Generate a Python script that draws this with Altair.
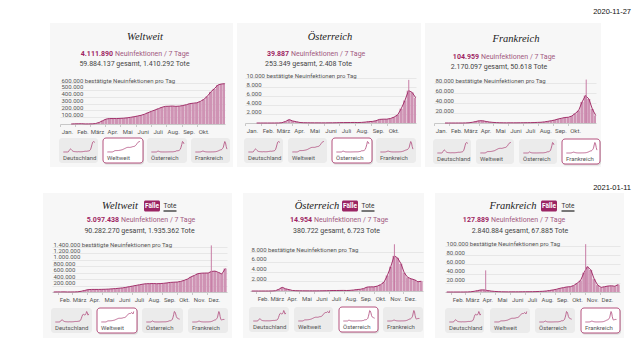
import altair as alt
import pandas as pd

# ---------------- data ----------------
week_start = pd.date_range("2020-01-20", periods=52, freq="7D")

weltweit = [500, 2500, 3200, 4000, 1200, 1500,
            2500, 7000, 22000, 48000, 72000,
            80000, 80000, 80000, 82000,
            85000, 90000, 98000, 106000,
            117000, 127000, 143000, 165000, 185000,
            205000, 225000, 245000, 258000,
            260000, 263000, 258000, 262000, 270000,
            282000, 298000, 305000, 310000,
            330000, 360000, 405000, 470000,
            515000, 570000, 585000, 590000, 590000,
            640000, 650000, 610000, 560000,
            730000, 720000]

oesterreich = [0, 0, 0, 0, 0, 2,
               10, 60, 350, 750, 450,
               280, 110, 65, 50,
               40, 35, 35, 30,
               30, 40, 45, 60, 80,
               100, 100, 110, 120,
               100, 130, 200, 300, 350,
               500, 800, 850, 850,
               1000, 1300, 1800, 3200,
               5000, 7200, 6800, 5600, 3700,
               2800, 2500, 2300, 1900,
               2000, 2100]

frankreich = [0, 1, 1, 1, 2, 5,
              150, 500, 1500, 3000, 4500,
              4500, 3000, 2000, 1200,
              800, 500, 400, 300,
              400, 400, 400, 500, 550,
              600, 700, 900, 1200,
              1500, 2200, 3300, 4500, 6000,
              8000, 9500, 11000, 11500,
              14000, 19000, 25000, 42000,
              55000, 48000, 28000, 15000, 10000,
              11500, 13000, 13500, 12500,
              16000, 18000]

deutschland = [0, 1, 1, 1, 1, 5,
               50, 400, 2500, 4500, 5500,
               4500, 3000, 1800, 1100,
               800, 650, 550, 450,
               350, 350, 600, 500, 450,
               400, 450, 550, 650,
               900, 1100, 1300, 1400, 1300,
               1400, 1700, 1900, 2200,
               3000, 5000, 9000, 14000,
               18000, 19000, 18000, 17500, 18000,
               21000, 26000, 23000, 17000,
               20000, 19000]

# single-day peaks (date, value)
spike_dates = {
    "r1c2": ["2020-11-13"], "r1c3": ["2020-11-07"],
    "r2c1": ["2020-12-10"], "r2c2": ["2020-11-13"], "r2c3": ["2020-04-12", "2020-11-02"],
}
spike_values = {
    "r1c2": [9586], "r1c3": [86852],
    "r2c1": [1450000], "r2c2": [9586], "r2c3": [47000, 104000],
}

SERIES = {"Deutschland": deutschland, "Weltweit": weltweit,
          "Österreich": oesterreich, "Frankreich": frankreich}
BUTTONS = ["Deutschland", "Weltweit", "Österreich", "Frankreich"]
MONTHS = ["Jan.", "Feb.", "März", "Apr.", "Mai", "Juni", "Juli", "Aug.", "Sep.", "Okt.", "Nov.", "Dez."]

# ---------------- style ----------------
SANS = "Roboto"
SERIF = "Liberation Serif"
CARD_BG = "#f7f7f7"
BTN_BG = "#ebebeb"
BAR = "#cf93b4"
LINEC = "#a3336c"
SPIKEC = "#c77ca5"
NUMC = "#9e1f63"
MAUVE = "#a2587f"
FAELLE = "#9b2564"
SEL = "#b5527f"

ONE = pd.DataFrame({"k": [0]})
MONTH_EXPR = "[" + ",".join("'%s'" % m for m in MONTHS) + "][month(datum.value)]"


def dt(s):
    t = pd.Timestamp(s)
    return alt.DateTime(year=t.year, month=t.month, date=t.day)


def week_frame(vals, n, end):
    df = pd.DataFrame({"start": week_start[:n], "v": vals[:n]})
    df["end"] = (df["start"] + pd.Timedelta(hours=152)).clip(upper=pd.Timestamp(end))
    df["mid"] = df["start"] + pd.Timedelta(hours=84)
    return df


def txt(text, x, y, **kw):
    kw.setdefault("font", SANS)
    kw.setdefault("baseline", "middle")
    kw.setdefault("align", "center")
    return alt.Chart(ONE).mark_text(text=text, **kw).encode(x=alt.value(x), y=alt.value(y))


def box(x0, x1, y0, y1, **kw):
    return alt.Chart(ONE).mark_rect(**kw).encode(
        x=alt.value(x0), x2=alt.value(x1), y=alt.value(y0), y2=alt.value(y1))


def card(c, row):
    W, H = c["w"], row["h"]
    head = []
    head.append(txt(c["title"], c["tx"], c.get("ty", row["ty"]), font=SERIF, fontStyle="italic",
                    fontSize=10.5, color="#222"))
    s1y = c.get("s1y", row["s1y"])
    s2y = c.get("s2y", row["s2y"])
    head.append(txt(c["num"], c["split"], s1y, align="right", fontWeight="bold", color=NUMC, fontSize=7))
    head.append(txt("Neuinfektionen / 7 Tage", c["split"] + 2, s1y, align="left", color=MAUVE, fontSize=7))
    head.append(txt(c["stats2"], c["s2x"], s2y, color="#444", fontSize=7))
    if "faelle" in c:
        fx0, fx1 = c["faelle"]
        ty = row["ty"]
        head.append(box(fx0, fx1, ty - 5.5, ty + 5.5, color=FAELLE, cornerRadius=1.5))
        head.append(txt("Fälle", (fx0 + fx1) / 2, ty, color="white", fontSize=6.5, fontWeight="bold"))
        head.append(txt("Tote", c["tote"], ty - 0.5, color="#333", fontSize=6.5))
        head.append(alt.Chart(ONE).mark_rule(color="#222", strokeWidth=1.2).encode(
            x=alt.value(c["tote"] - 6.5), x2=alt.value(c["tote"] + 6.5), y=alt.value(ty + 5)))

    # ---- main chart ----
    xs = alt.Scale(domain=[dt(row["dom"][0]), dt(row["dom"][1])], range=[c["x0"], c["x1"]])
    ys = alt.Scale(domain=[0, c["ymax"]], range=[c["y0"], c["y1"]], nice=False)
    xa = alt.Axis(values=[dt(m) for m in row["months"]], orient="bottom", offset=-(H - c["y0"]),
                  title=None, grid=False, domainColor="#c8c8c8", tickColor="#c8c8c8", tickSize=2.5,
                  labelExpr=MONTH_EXPR, labelOffset=7, labelPadding=1.5, labelFontSize=6,
                  labelColor="#555", labelFlush=False, labelOverlap=False, labelAlign="center",
                  labelFont=SANS)
    ya = alt.Axis(values=list(range(c["step"], c["ymax"] + 1, c["step"])), orient="left",
                  offset=-c["x0"], title=None, grid=True, gridColor="#e2e2e2", gridWidth=0.8,
                  domain=False, ticks=False, tickSize=0, labelAlign="left", labelBaseline="bottom",
                  labelPadding=-1, labelFontSize=6, labelColor="#555", format=",d",
                  labelExpr="datum.value == %d ? datum.label + ' bestätigte Neuinfektionen pro Tag' : datum.label" % c["ymax"],
                  labelFlush=False, labelOverlap=False, labelFont=SANS)
    vals = SERIES[c["title"]]
    wdf = week_frame(vals, row["n"], row["dom"][1])
    ldf = wdf[wdf["mid"] <= pd.Timestamp(row["dom"][1])]
    bars = alt.Chart(wdf).mark_bar(color=BAR).encode(
        x=alt.X("start:T", scale=xs, axis=xa), x2="end:T",
        y=alt.Y("v:Q", scale=ys, axis=ya), y2=alt.datum(0))
    line = alt.Chart(ldf).mark_line(color=LINEC, strokeWidth=1).encode(
        x=alt.X("mid:T", scale=xs, axis=xa), y=alt.Y("v:Q", scale=ys, axis=ya))
    mains = [bars, line]
    key = c["key"]
    if key in spike_dates:
        sdf = pd.DataFrame({"d": pd.to_datetime(spike_dates[key]), "v": spike_values[key]})
        mains.append(alt.Chart(sdf).mark_rule(color=SPIKEC, strokeWidth=1).encode(
            x=alt.X("d:T", scale=xs, axis=xa), y=alt.Y("v:Q", scale=ys, axis=ya), y2=alt.datum(0)))
    main = alt.layer(*mains)

    # ---- buttons with sparklines ----
    btn = []
    by0 = c["by"]
    bh = 25
    for i, name in enumerate(BUTTONS):
        bx0, bx1 = c["bx"][i]
        if i == c["sel"]:
            btn.append(box(bx0 + 0.5, bx1 + 1, by0 + 1, by0 + bh + 1.5, color="#d9d9d9", cornerRadius=3))
            btn.append(box(bx0, bx1, by0, by0 + bh, fill="white", stroke=SEL, strokeWidth=1, cornerRadius=3))
        else:
            btn.append(box(bx0, bx1, by0, by0 + bh, color=BTN_BG, cornerRadius=3))
        sp = week_frame(SERIES[name], row["n"], row["dom"][1])
        sp = sp[sp["mid"] <= pd.Timestamp(row["dom"][1])]
        btn.append(alt.Chart(sp).mark_line(color="#b04a7c", strokeWidth=0.8).encode(
            x=alt.X("mid:T", axis=None,
                    scale=alt.Scale(domain=[dt(row["sdom"][0]), dt(row["sdom"][1])],
                                    range=[bx0 + 4, bx1 - 3])),
            y=alt.Y("v:Q", axis=None,
                    scale=alt.Scale(zero=True, nice=False, range=[by0 + 14, by0 + 3.5]))))
        btn.append(txt(name, bx0 + 4, by0 + 19.5, align="left", fontSize=6, color="#555"))

    return alt.layer(*head, main, *btn).resolve_scale(
        x="independent", y="independent").properties(
        width=W, height=H, view=alt.ViewBackground(fill=CARD_BG, strokeWidth=0))


ROW1 = dict(h=144, ty=14, s1y=31, s2y=41, n=45,
            dom=("2020-01-01", "2020-11-27"), sdom=("2020-01-20", "2020-11-27"),
            months=["2020-%02d-01" % m for m in range(1, 11)])
ROW2 = dict(h=145, ty=13, s1y=27, s2y=38, n=52,
            dom=("2020-01-20", "2021-01-11"), sdom=("2020-01-20", "2021-01-11"),
            months=["2020-%02d-01" % m for m in range(2, 13)])

R1_CARDS = [
    dict(key="r1c1", w=183, title="Weltweit", tx=95, num="4.111.890", split=63,
         stats2="59.884.137 gesamt, 1.410.292 Tote", s2x=84.5,
         x0=10, x1=175, y0=101, y1=60, ymax=600000, step=100000,
         bx=[(9, 48), (53, 93), (97, 137), (141, 180)], by=115, sel=1),
    dict(key="r1c2", w=184, title="Österreich", tx=93, num="39.887", split=52,
         stats2="253.349 gesamt, 2.408 Tote", s2x=71.5,
         x0=8, x1=179, y0=100, y1=55, ymax=10000, step=2000,
         bx=[(7, 46), (51, 90), (95, 135), (139, 179)], by=115, sel=2),
    dict(key="r1c3", w=176, title="Frankreich", tx=91, ty=16, s1y=34, s2y=44, num="104.959", split=54,
         stats2="2.170.097 gesamt, 50.618 Tote", s2x=74,
         x0=9, x1=171, y0=100, y1=60, ymax=80000, step=20000,
         bx=[(8, 46), (51, 89), (94, 132), (137, 175)], by=116, sel=3),
]
R2_CARDS = [
    dict(key="r2c1", w=189, title="Weltweit", tx=77, faelle=(101, 117), tote=127,
         num="5.097.438", split=76, stats2="90.282.270 gesamt, 1.935.362 Tote", s2x=96.5,
         x0=9, x1=184, y0=99, y1=54, ymax=1400000, step=200000,
         bx=[(8, 49), (54, 94), (99, 140), (145, 185)], by=115, sel=1),
    dict(key="r2c2", w=181, title="Österreich", tx=74, faelle=(99, 115), tote=125,
         num="14.954", split=69, stats2="380.722 gesamt, 6.723 Tote", s2x=93.5,
         x0=7, x1=180, y0=98, y1=59, ymax=8000, step=2000,
         bx=[(6, 46), (51, 90), (96, 135), (140, 180)], by=114, sel=2),
    dict(key="r2c3", w=189, title="Frankreich", tx=78, faelle=(106, 122), tote=133,
         num="127.889", split=54, stats2="2.840.884 gesamt, 67.885 Tote", s2x=85,
         x0=10, x1=185, y0=99, y1=53, ymax=100000, step=20000,
         bx=[(10, 49), (55, 95), (100, 140), (146, 185)], by=115, sel=3),
]


def spacer(w, h):
    return alt.Chart(ONE).mark_point(opacity=0, size=1).encode(
        x=alt.value(w / 2), y=alt.value(h / 2)).properties(width=w, height=h)


def date_view(label, y, h):
    return alt.Chart(ONE).mark_text(text=label, align="right", baseline="middle", fontSize=7.5,
                                    font="Liberation Sans", color="#111").encode(
        x=alt.value(623), y=alt.value(y)).properties(width=624, height=h)


row1 = alt.hconcat(spacer(38, ROW1["h"]), *[card(c, ROW1) for c in R1_CARDS], spacing=4)
row2 = alt.hconcat(spacer(24, ROW2["h"]), *[card(c, ROW2) for c in R2_CARDS], spacing=11)

chart = alt.vconcat(date_view("2020-11-27", 4, 15), row1,
                    date_view("2021-01-11", 21, 26), row2,
                    spacing=0).properties(padding=0)

chart = chart.configure(
    locale={"number": {"decimal": ",", "thousands": ".", "grouping": [3], "currency": ["", " €"]}}
).configure_view(strokeWidth=0)

chart.save("out.html", embed_options={"renderer": "svg", "actions": False})
